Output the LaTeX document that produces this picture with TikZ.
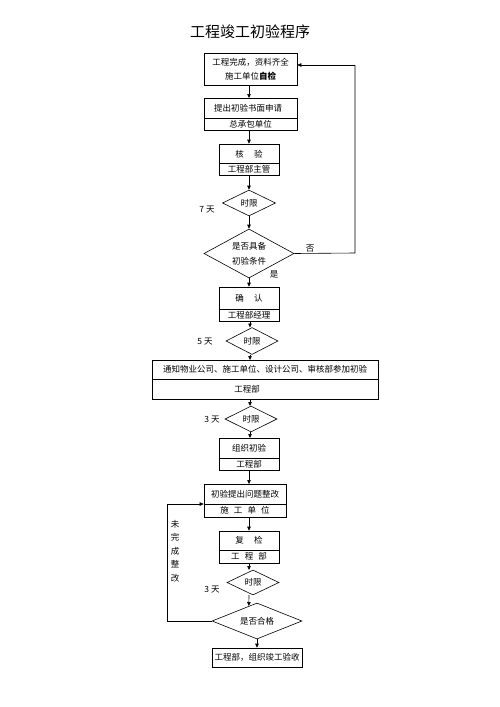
\documentclass[tikz,border=0pt]{standalone}
\usepackage{fontspec}
\setmainfont{Noto Sans CJK SC}
\newfontfamily\cjkb[BoldFont={Noto Sans CJK SC Bold}]{Noto Sans CJK SC}
\usetikzlibrary{shapes.geometric,arrows.meta,calc}
\begin{document}
\begin{tikzpicture}[x=1pt,y=-1pt,
  lw/.style={line width=0.6pt},
  box/.style={draw,lw,rectangle,inner sep=0pt},
  dia/.style={draw,lw,diamond,inner sep=0pt},
  txt/.style={font=\fontsize{8.5}{10}\selectfont,inner sep=0pt},
  lbl/.style={font=\fontsize{8.5}{10}\selectfont,inner sep=0pt},
  arr/.style={lw,-{Triangle[length=4pt,width=3.5pt]}}]
\useasboundingbox (0,0) rectangle (500,707);
\node[inner sep=0pt,font=\fontsize{15}{17}\selectfont] (title) at (250,32) {工程竣工初验程序};
% box1
\node[box,minimum width=93pt,minimum height=32pt] (b1) at (250.5,69) {};
\node[txt] (b1a) at (250.5,62) {工程完成，资料齐全};
\node[txt] (b1b) at (250.5,76) {施工单位\textbf{自检}};
% box2
\node[box,minimum width=93pt,minimum height=32pt] (b2) at (250.5,114) {};
\draw[lw] (204,118) -- (297,118);
\node[txt] (b2a) at (248,108) {提出初验书面申请};
\node[txt] (b2b) at (250.5,124) {总承包单位};
% box3
\node[box,minimum width=60pt,minimum height=31pt] (b3) at (249,159.5) {};
\draw[lw] (219,163) -- (279,163);
\node[txt] (b3a) at (249,154) {核\hspace{1.2em}验};
\node[txt] (b3b) at (249,169) {工程部主管};
% diamond 1
\node[dia,minimum width=53pt,minimum height=26pt] (d1) at (249,203) {};
\node[txt] (d1t) at (249,203) {时限};
\node[lbl] (l7) at (207,210) {7 天};
% diamond 2
\node[dia,minimum width=90pt,minimum height=49pt] (d2) at (249,253.5) {};
\node[txt] (d2a) at (249,246) {是否具备};
\node[txt] (d2b) at (249,261) {初验条件};
\node[lbl] (lno) at (310,249) {否};
\node[lbl] (lyes) at (274,274) {是};
% box4
\node[box,minimum width=60pt,minimum height=34pt] (b4) at (249,304) {};
\draw[lw] (219,309) -- (279,309);
\node[txt] (b4a) at (249,298) {确\hspace{1.2em}认};
\node[txt] (b4b) at (249,315) {工程部经理};
% diamond 3
\node[dia,minimum width=52pt,minimum height=27pt] (d3) at (252,341) {};
\node[txt] (d3t) at (252,341) {时限};
\node[lbl] (l5) at (205,342) {5 天};
% box5
\node[box,minimum width=226pt,minimum height=39pt] (b5) at (265,379.5) {};
\draw[lw] (152,379) -- (378,379);
\node[txt] (b5a) at (265,369) {通知物业公司、施工单位、设计公司、审核部参加初验};
\node[txt] (b5b) at (247,389) {工程部};
% diamond 4
\node[dia,minimum width=52pt,minimum height=26pt] (d4) at (251,419) {};
\node[txt] (d4t) at (251,419) {时限};
\node[lbl] (l3a) at (212,420) {3 天};
% box6
\node[box,minimum width=60pt,minimum height=32pt] (b6) at (249,454) {};
\draw[lw] (219,458) -- (279,458);
\node[txt] (b6a) at (249,448) {组织初验};
\node[txt] (b6b) at (249,464) {工程部};
% box7
\node[box,minimum width=82pt,minimum height=33pt] (b7) at (245,500.5) {};
\draw[lw] (204,504) -- (286,504);
\node[txt] (b7a) at (245,494) {初验提出问题整改};
\node[txt] (b7b) at (245,510.5) {施\hspace{0.6em}工\hspace{0.6em}单\hspace{0.6em}位};
% box8
\node[box,minimum width=60pt,minimum height=32pt] (b8) at (249,547) {};
\draw[lw] (219,550) -- (279,550);
\node[txt] (b8a) at (249,540.5) {复\hspace{1.2em}检};
\node[txt] (b8b) at (249,556.5) {工\hspace{0.6em}程\hspace{0.6em}部};
% diamond 5
\node[dia,minimum width=52pt,minimum height=25pt] (d5) at (253,582.5) {};
\node[txt] (d5t) at (253,582.5) {时限};
\node[lbl] (l3b) at (212,590) {3 天};
% diamond 6
\node[dia,minimum width=90pt,minimum height=36pt] (d6) at (257,621) {};
\node[txt] (d6t) at (257,621) {是否合格};
% box9
\node[box,minimum width=90pt,minimum height=19pt] (b9) at (257,657.5) {};
\node[txt] (b9t) at (257,657.5) {工程部，组织竣工验收};
% left vertical label
\node[lbl,align=center,font=\fontsize{8.5}{13.5}\selectfont] (lv) at (175,551) {未\\完\\成\\整\\改};
% coordinates
\coordinate (r1) at (355,253);
\coordinate (r2) at (355,65);
\coordinate (q1) at (167,621);
\coordinate (q2) at (167,504);
% arrows
\draw[arr] (b1.south -| 249,0) -- (249,98);
\draw[arr] (b2.south -| 249,0) -- (b3.north);
\draw[arr] (b3.south) -- (d1.north);
\draw[arr] (d1.south) -- (d2.north);
\draw[arr] (d2.south) -- (b4.north);
\draw[arr] (b4.south -| 250,0) -- (250,327.5);
\draw[arr] (250,354.5) -- (250,360);
\draw[arr] (250,399) -- (250,406);
\draw[arr] (250,432) -- (250,438);
\draw[arr] (b6.south) -- (249,484);
\draw[arr] (b7.south -| 249,0) -- (b8.north);
\draw[arr] (b8.south) -- (249,570);
\draw[arr] (249,595) -- ($(d6.north)!0.18!(d6.west)$);
\draw[arr] (d6.south) -- (b9.north);
\draw[lw] (d2.east) -- (r1) -- (r2);
\draw[arr] (r2) -- (b1.east |- r2);
\draw[lw] (d6.west) -- (q1) -- (q2);
\draw[arr] (q2) -- (b7.west |- q2);
\end{tikzpicture}
\end{document}
